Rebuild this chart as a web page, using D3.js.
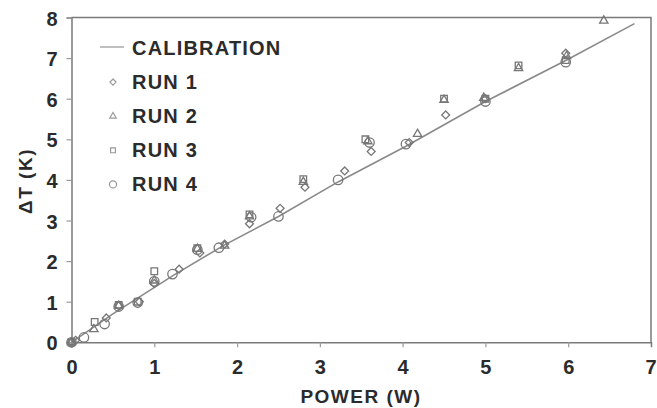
<!DOCTYPE html>
<html>
<head>
<meta charset="utf-8">
<script src="https://cdn.jsdelivr.net/npm/d3@7"></script>
<style>
  body { margin: 0; background: #fff; }
  text { font-family: "Liberation Sans", Arial, sans-serif; font-weight: bold; fill: #2b2b2b; }
</style>
</head>
<body>
<div id="chart"></div>
<script>
var xTicks = [0, 1, 2, 3, 4, 5, 6, 7];
var yTicks = [0, 1, 2, 3, 4, 5, 6, 7, 8];

// calibration curve
var calibration = [[0, 0], [0.5, 0.7], [1.23, 1.65], [1.85, 2.4], [2.5, 3.1], [3.22, 3.95],
  [4.04, 4.83], [5.0, 5.93], [5.97, 6.94], [6.8, 7.85]];

var run1 = [[0, 0], [0.05, 0.05], [0.42, 0.6], [0.57, 0.9], [0.82, 1.0], [1.0, 1.45], [1.3, 1.8],
  [1.55, 2.2], [1.85, 2.42], [2.15, 2.92], [2.52, 3.3], [2.82, 3.82], [3.3, 4.22], [3.62, 4.7],
  [4.08, 4.92], [4.52, 5.6], [5.0, 6.0], [5.97, 7.12]];
var run2 = [[0, 0], [0.27, 0.32], [0.57, 0.9], [1.0, 1.52], [1.52, 2.3], [1.85, 2.38], [2.15, 3.1],
  [2.8, 3.95], [3.58, 4.95], [4.18, 5.13], [4.5, 5.97], [4.98, 6.02], [5.4, 6.75], [5.98, 7.05], [6.43, 7.92]];
var run3 = [[0, 0], [0.28, 0.5], [0.57, 0.92], [0.8, 1.0], [1.0, 1.75], [1.52, 2.32], [2.15, 3.15],
  [2.8, 4.02], [3.55, 5.0], [4.5, 6.0], [5.0, 6.0], [5.4, 6.82], [5.97, 6.95]];
var run4 = [[0, 0], [0.15, 0.12], [0.4, 0.45], [0.57, 0.88], [0.8, 0.98], [1.0, 1.5], [1.22, 1.68],
  [1.52, 2.28], [1.78, 2.33], [2.17, 3.08], [2.5, 3.1], [3.22, 4.0], [3.6, 4.92], [4.04, 4.88],
  [5.0, 5.93], [5.97, 6.9]];

var legendNames = ['CALIBRATION', 'RUN 1', 'RUN 2', 'RUN 3', 'RUN 4'];

var width = 657, height = 408;
var gray = '#8a8a8a';

var svg = d3.select('#chart').append('svg')
  .attr('width', width)
  .attr('height', height);

var x = d3.scaleLinear().domain([0, 7]).range([71.5, 651]);
var y = d3.scaleLinear().domain([0, 8]).range([342.3, 17.5]);

// frame (top + right)
svg.append('path')
  .attr('d', 'M' + x(0) + ',' + y(8) + 'H' + x(7) + 'V' + y(0))
  .attr('fill', 'none')
  .attr('stroke', '#7a7a7a')
  .attr('stroke-width', 1.5);

var xAxis = svg.append('g')
  .attr('transform', 'translate(0,' + y(0) + ')')
  .call(d3.axisBottom(x).tickValues(xTicks.slice(0, 7)).tickFormat(d3.format('d')).tickSize(5).tickPadding(12));
var yAxis = svg.append('g')
  .attr('transform', 'translate(' + x(0) + ',0)')
  .call(d3.axisLeft(y).tickValues(yTicks).tickFormat(d3.format('d')).tickSize(5).tickPadding(9));

[xAxis, yAxis].forEach(function(g) {
  g.select('.domain').attr('stroke', '#7a7a7a').attr('stroke-width', 1.5);
  g.selectAll('.tick line').attr('stroke', '#9a9a9a').attr('stroke-width', 1.2);
  g.selectAll('.tick text').style('font-size', '20px').attr('fill', '#2b2b2b');
});
yAxis.selectAll('.tick text').attr('dy', '0.38em');
xAxis.selectAll('.tick text').attr('dy', '0.75em');

// last x label sits at the frame edge
svg.append('text')
  .attr('x', x(7))
  .attr('y', y(0) + 17)
  .attr('dy', '0.75em')
  .attr('text-anchor', 'middle')
  .style('font-size', '20px')
  .text(xTicks[7]);

// axis titles
svg.append('text')
  .attr('x', 361)
  .attr('y', 403)
  .attr('text-anchor', 'middle')
  .style('font-size', '19px')
  .style('letter-spacing', '1.5px')
  .text('POWER (W)');

svg.append('text')
  .attr('transform', 'translate(32,181) rotate(-90)')
  .attr('text-anchor', 'middle')
  .style('font-size', '19px')
  .style('letter-spacing', '1.5px')
  .text('\u0394T (K)');

// calibration line
svg.append('path')
  .datum(calibration)
  .attr('fill', 'none')
  .attr('stroke', gray)
  .attr('stroke-width', 1.6)
  .attr('d', d3.line().x(function(d) { return x(d[0]); }).y(function(d) { return y(d[1]); }));

var symbols = [
  d3.symbol().type(d3.symbolDiamond2).size(40),
  d3.symbol().type(d3.symbolTriangle2).size(50),
  d3.symbol().type(d3.symbolSquare2).size(55),
  d3.symbol().type(d3.symbolCircle).size(70)
];
var legendSymbols = [
  d3.symbol().type(d3.symbolDiamond2).size(24),
  d3.symbol().type(d3.symbolTriangle2).size(30),
  d3.symbol().type(d3.symbolSquare2).size(30),
  d3.symbol().type(d3.symbolCircle).size(40)
];
var runs = [run1, run2, run3, run4];

runs.forEach(function(run, i) {
  svg.append('g').selectAll('path')
    .data(run)
    .enter()
    .append('path')
    .attr('transform', function(d) { return 'translate(' + x(d[0]) + ',' + y(d[1]) + ')'; })
    .attr('d', symbols[i])
    .attr('fill', 'none')
    .attr('stroke', '#777')
    .attr('stroke-width', 1.3);
});

// legend
var legend = svg.append('g');
legend.append('line')
  .attr('x1', 100).attr('x2', 124)
  .attr('y1', 47).attr('y2', 47)
  .attr('stroke', '#aaa')
  .attr('stroke-width', 1.5);

legend.selectAll('text')
  .data(legendNames)
  .enter()
  .append('text')
  .attr('x', 132)
  .attr('y', function(d, i) { return 55 + i * 34.1; })
  .style('font-size', '20px')
  .style('letter-spacing', '1.2px')
  .text(function(d) { return d; });

legendNames.slice(1).forEach(function(name, i) {
  legend.append('path')
    .attr('transform', 'translate(113,' + (55 + (i + 1) * 34.1 - 7) + ')')
    .attr('d', legendSymbols[i])
    .attr('fill', 'none')
    .attr('stroke', '#999')
    .attr('stroke-width', 1.2);
});
</script>
</body>
</html>
